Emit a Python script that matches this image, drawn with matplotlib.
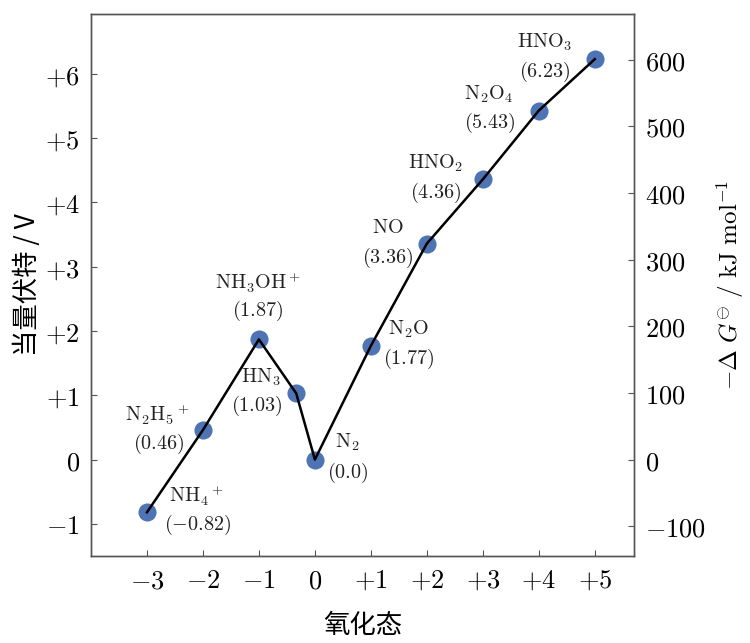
import matplotlib
matplotlib.use("Agg")
import matplotlib.pyplot as plt

plt.rcParams['font.family'] = ['Noto Sans CJK SC', 'DejaVu Sans']
plt.rcParams['mathtext.fontset'] = 'cm'
plt.rcParams['axes.unicode_minus'] = True

# Data
ox_states = [-3, -2, -1, -1/3, 0, 1, 2, 3, 4, 5]
volt_equiv = [-0.82, 0.46, 1.87, 1.03, 0.0, 1.77, 3.36, 4.36, 5.43, 6.23]
species = [r'$\mathrm{NH_4{}^+}$', r'$\mathrm{N_2H_5{}^+}$', r'$\mathrm{NH_3OH^+}$',
           r'$\mathrm{HN_3}$', r'$\mathrm{N_2}$', r'$\mathrm{N_2O}$', r'$\mathrm{NO}$',
           r'$\mathrm{HNO_2}$', r'$\mathrm{N_2O_4}$', r'$\mathrm{HNO_3}$']
value_labels = ['(−0.82)', '(0.46)', '(1.87)', '(1.03)', '(0.0)', '(1.77)',
                '(3.36)', '(4.36)', '(5.43)', '(6.23)']
x_ticks = [-3, -2, -1, 0, 1, 2, 3, 4, 5]
x_ticklabels = ['$-3$', '$-2$', '$-1$', '$0$', '$+1$', '$+2$', '$+3$', '$+4$', '$+5$']
y_ticks = [-1, 0, 1, 2, 3, 4, 5, 6]
y_ticklabels = ['$-1$', '$0$', '$+1$', '$+2$', '$+3$', '$+4$', '$+5$', '$+6$']
g_ticks = [-100, 0, 100, 200, 300, 400, 500, 600]
g_ticklabels = ['$-100$', '$0$', '$100$', '$200$', '$300$', '$400$', '$500$', '$600$']
FARADAY = 96.485  # kJ mol^-1 V^-1

# label offsets in pixels (name, value)
name_off = [(50, 17), (-46, 15), (-1, 57), (-35, 16), (32, 17), (38, 17),
            (-39, 16), (-47, 16), (-50, 16), (-50, 17)]
val_off = [(51, -13), (-44, -14), (-1, 28), (-39, -13), (33, -13), (38, -13),
           (-39, -14), (-47, -14), (-49, -12), (-50, -13)]

fig = plt.figure(figsize=(7.5, 6.43), dpi=100)
ax = fig.add_axes([0.1213, 0.1353, 0.7240, 0.8427])

ax.scatter(ox_states, volt_equiv, s=170, color='#4f74b3', zorder=2, linewidths=0)
ax.plot(ox_states, volt_equiv, color='black', lw=1.8, zorder=3)

for x, y, nm, vl, no, vo in zip(ox_states, volt_equiv, species, value_labels, name_off, val_off):
    ax.annotate(nm, (x, y), xytext=no, textcoords='offset pixels', ha='center', va='center',
                fontsize=14.5, color='#222222')
    ax.annotate('$' + vl.replace('−', '-') + '$', (x, y), xytext=vo, textcoords='offset pixels',
                ha='center', va='center', fontsize=14.5, color='#222222')

ylo, yhi = -1.5, 6.93
ax.set_xlim(-4, 5.7)
ax.set_ylim(ylo, yhi)
ax.set_xticks(x_ticks)
ax.set_xticklabels(x_ticklabels)
ax.set_yticks(y_ticks)
ax.set_yticklabels(y_ticklabels)
ax.tick_params(direction='in', length=4, width=0.8, color='#555555', labelsize=19, pad=8)

ax2 = ax.twinx()
ax2.set_ylim(ylo * FARADAY, yhi * FARADAY)
ax2.set_yticks(g_ticks)
ax2.set_yticklabels(g_ticklabels)
ax2.tick_params(direction='in', length=4, width=0.8, color='#555555', labelsize=19, pad=8)

for a in (ax, ax2):
    for s in a.spines.values():
        s.set_color('#555555')
        s.set_linewidth(1.0)

ax.set_xlabel('氧化态', fontsize=19, labelpad=13)
ax.set_ylabel('当量伏特 / V', fontsize=19, labelpad=3)
ax2.set_ylabel(r'$-\Delta\ G^{\ominus}\ /\ \mathrm{kJ\ mol^{-1}}$', fontsize=18, labelpad=6)

fig.savefig('out.png', dpi=100)
